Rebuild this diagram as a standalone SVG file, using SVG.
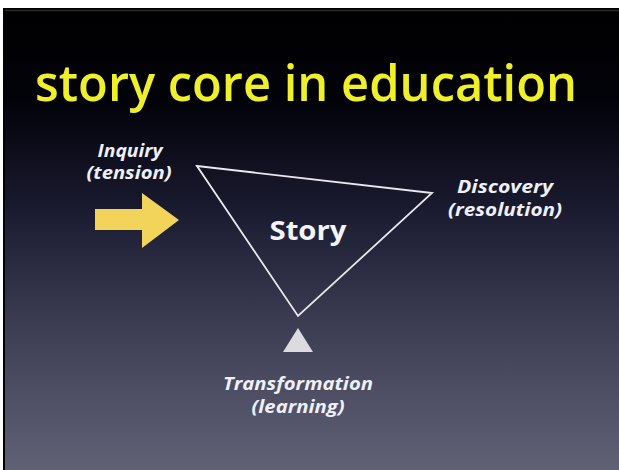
<svg xmlns="http://www.w3.org/2000/svg" width="619" height="470" viewBox="0 0 619 470">
  <defs>
    <linearGradient id="bg" x1="0" y1="0" x2="0" y2="1">
      <stop offset="0" stop-color="#000000"/>
      <stop offset="0.2" stop-color="#02020a"/>
      <stop offset="0.45" stop-color="#1c1c32"/>
      <stop offset="0.7" stop-color="#3e3e55"/>
      <stop offset="1" stop-color="#616176"/>
    </linearGradient>
    <style>
      .lbl { font-family: "Open Sans", "DejaVu Sans", sans-serif; font-style: italic; font-weight: 700; font-size: 18px; fill: #eef0fa; text-anchor: middle; }
    </style>
  </defs>
  <rect x="0" y="0" width="619" height="470" fill="#ffffff"/>
  <rect x="3" y="8" width="616" height="462" fill="url(#bg)"/>
  <rect x="3" y="8" width="2" height="462" fill="#000000"/>
  <line x1="5" y1="10.5" x2="619" y2="10.5" stroke="#2a2a2a" stroke-width="1.5"/>

  <g id="title">
    <text x="306" y="101" font-family="Open Sans, DejaVu Sans, sans-serif" font-weight="600" font-size="50" fill="#f0f02a" text-anchor="middle" textLength="542" lengthAdjust="spacingAndGlyphs">story core in education</text>
  </g>

  <g id="story">
    <polygon points="197,166 432,193 298,316" fill="none" stroke="#e8e8ee" stroke-width="1.8" stroke-linejoin="miter"/>
    <text x="308" y="240" font-family="Open Sans, DejaVu Sans, sans-serif" font-weight="700" font-size="27" fill="#f4f4f8" text-anchor="middle" textLength="77" lengthAdjust="spacingAndGlyphs">Story</text>
  </g>

  <g id="inquiry">
    <text class="lbl" x="130" y="157" textLength="65" lengthAdjust="spacingAndGlyphs">Inquiry</text>
    <text class="lbl" x="129" y="179" textLength="85" lengthAdjust="spacingAndGlyphs">(tension)</text>
    <polygon points="95,209 142,209 142,193 179,220 142,248 142,230 95,230" fill="#f2d45a"/>
  </g>

  <g id="discovery">
    <text class="lbl" x="505" y="193" textLength="96" lengthAdjust="spacingAndGlyphs">Discovery</text>
    <text class="lbl" x="505" y="216" textLength="114" lengthAdjust="spacingAndGlyphs">(resolution)</text>
  </g>

  <g id="transformation">
    <polygon points="298,328 313,352 283,352" fill="#dcdce0"/>
    <text class="lbl" x="298" y="390" textLength="150" lengthAdjust="spacingAndGlyphs">Transformation</text>
    <text class="lbl" x="298" y="413" textLength="93" lengthAdjust="spacingAndGlyphs">(learning)</text>
  </g>

  <g id="connectors"></g>
</svg>
